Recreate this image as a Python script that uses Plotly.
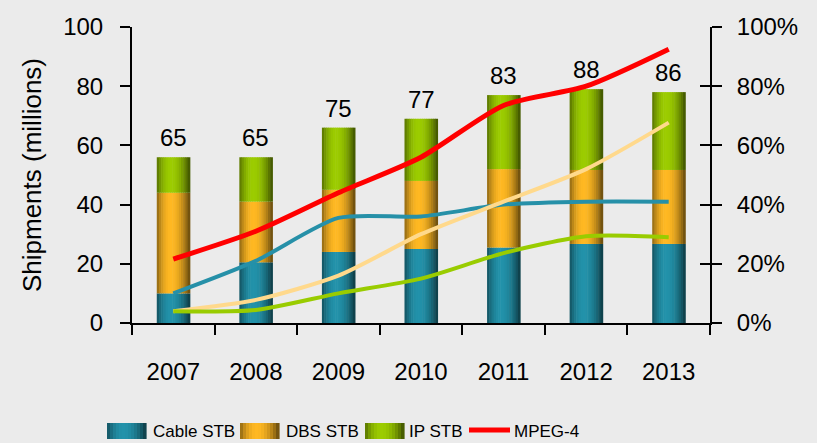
import plotly.graph_objects as go

years = ["2007", "2008", "2009", "2010", "2011", "2012", "2013"]
cable_stb = [10, 20.5, 24, 25, 25.5, 26.7, 26.7]
dbs_stb = [34, 20.5, 21, 23, 26.5, 25, 25]
ip_stb = [12, 15, 21, 21, 25, 27.3, 26.3]
total_labels = ["65", "65", "75", "77", "83", "88", "86"]

mpeg4_pct = [21.6, 31, 44, 56, 73.5, 80, 92.5]
teal_pct = [10, 21, 35.5, 36, 40, 41, 41]
beige_pct = [4, 7.8, 16, 30, 41, 52, 67.7]
green_pct = [4, 4.4, 10, 15, 23.6, 29.3, 29]

left_ticks = [0, 20, 40, 60, 80, 100]
right_ticks = [0, 20, 40, 60, 80, 100]
right_tick_text = ["0%", "20%", "40%", "60%", "80%", "100%"]

xpos = list(range(len(years)))

BG = "#EBEBEB"
FONT = "Liberation Sans, Arial, sans-serif"

seg_colors = {
    "Cable STB": (0x22, 0x92, 0xAA),
    "DBS STB": (0xFF, 0xB8, 0x22),
    "IP STB": (0x9C, 0xCC, 0x00),
}


def shade(rgb, t):
    # cylinder-like shading across the bar width (t in 0..1)
    peak = 0.42
    if t < peak:
        f = 1 - 0.45 * ((peak - t) / peak) ** 2
    else:
        f = 1 - 0.62 * ((t - peak) / (1 - peak)) ** 2
    r, g, b = [max(0, min(255, int(round(c * f)))) for c in rgb]
    return f"rgb({r},{g},{b})"


fig = go.Figure()

N = 15
BW = 0.40
segments = [("Cable STB", cable_stb), ("DBS STB", dbs_stb), ("IP STB", ip_stb)]
base = [0.0] * len(years)
for name, vals in segments:
    for k in range(N):
        t = (k + 0.5) / N
        fig.add_trace(go.Bar(
            x=xpos, y=vals, base=list(base),
            width=BW / N * 1.25, offset=-BW / 2 + k * BW / N,
            marker=dict(color=shade(seg_colors[name], t), line=dict(width=0)),
            showlegend=False, hoverinfo="skip",
        ))
    base = [b + v for b, v in zip(base, vals)]
totals = base

line_specs = [
    ("Teal", teal_pct, "#2690A8", 4),
    ("Beige", beige_pct, "#FFD98C", 4),
    ("Green", green_pct, "#99CC00", 4),
    ("MPEG-4", mpeg4_pct, "#FF0000", 5),
]
for name, vals, col, w in line_specs:
    fig.add_trace(go.Scatter(
        x=xpos, y=vals, yaxis="y2", mode="lines",
        line=dict(color=col, width=w, shape="spline", smoothing=0.7),
        showlegend=False, hoverinfo="skip", name=name,
    ))

# invisible trace to activate the inside-tick overlay axis
fig.add_trace(go.Scatter(x=[xpos[0]], y=[0], yaxis="y3", mode="markers",
                         marker=dict(opacity=0), showlegend=False, hoverinfo="skip"))

annotations = []
for xp, tot, lab in zip(xpos, totals, total_labels):
    annotations.append(dict(x=xp, y=tot, text=lab, showarrow=False, yanchor="bottom",
                            yshift=4, font=dict(family=FONT, size=24, color="black")))

# manual legend
W, H = 578.0, 296.0


def px_x(p):
    return (p - 132) / W


def px_y(p):
    return (323 - p) / H


shapes = []
legend_items = [("Cable STB", 107, 151), ("DBS STB", 240, 284), ("IP STB", 365, 407)]
for name, x0, tx in legend_items:
    bw = 39
    n = 13
    for k in range(n):
        t = (k + 0.5) / n
        shapes.append(dict(type="rect", xref="paper", yref="paper",
                           x0=px_x(x0 + k * bw / n), x1=px_x(x0 + (k + 1) * bw / n + 0.6),
                           y0=px_y(439), y1=px_y(423),
                           fillcolor=shade(seg_colors[name], t), line=dict(width=0), layer="above"))
    annotations.append(dict(xref="paper", yref="paper", x=px_x(tx), y=px_y(431),
                            text=name, showarrow=False, xanchor="left", yanchor="middle",
                            font=dict(family=FONT, size=17, color="black")))
shapes.append(dict(type="line", xref="paper", yref="paper", x0=px_x(469), x1=px_x(510),
                   y0=px_y(430), y1=px_y(430), line=dict(color="#FF0000", width=5)))
annotations.append(dict(xref="paper", yref="paper", x=px_x(512), y=px_y(431),
                        text="MPEG-4", showarrow=False, xanchor="left", yanchor="middle",
                        font=dict(family=FONT, size=17, color="black")))

fig.update_layout(
    width=817, height=443,
    margin=dict(l=132, r=107, t=27, b=120),
    paper_bgcolor=BG, plot_bgcolor=BG,
    barmode="overlay",
    showlegend=False,
    template="none",
    xaxis=dict(
        range=[-0.5, len(years) - 0.5],
        tickvals=xpos, ticktext=years,
        showgrid=False, zeroline=False,
        showline=True, linecolor="black", linewidth=2,
        ticks="", ticklabelstandoff=26,
        tickfont=dict(family=FONT, size=24, color="black"),
        minor=dict(tick0=-0.5, dtick=1, ticks="outside", ticklen=10, tickwidth=2,
                   tickcolor="black", showgrid=False),
    ),
    yaxis=dict(
        range=[0, 100], tickvals=left_ticks, showgrid=False, zeroline=False,
        showline=True, linecolor="black", linewidth=2,
        ticks="outside", ticklen=10, tickwidth=2, tickcolor="black",
        ticklabelstandoff=12,
        tickfont=dict(family=FONT, size=24, color="black"),
        title=dict(text="Shipments (millions)", standoff=14,
                   font=dict(family=FONT, size=26, color="black")),
    ),
    yaxis2=dict(
        range=[0, 100], overlaying="y", side="right", anchor="x",
        tickvals=right_ticks, ticktext=right_tick_text, showgrid=False, zeroline=False,
        showline=True, linecolor="black", linewidth=2,
        ticks="outside", ticklen=10, tickwidth=2, tickcolor="black",
        ticklabelstandoff=10,
        tickfont=dict(family=FONT, size=24, color="black"),
    ),
    yaxis3=dict(
        range=[0, 100], overlaying="y", side="right", anchor="x",
        tickvals=right_ticks, showticklabels=False, showgrid=False, zeroline=False,
        showline=False, ticks="inside", ticklen=10, tickwidth=2, tickcolor="black",
    ),
    annotations=annotations,
    shapes=shapes,
)

fig.write_html(
    "out.html",
    config={"displayModeBar": False},
    post_script="document.body.style.margin='0';document.body.style.background='#EBEBEB';",
)
